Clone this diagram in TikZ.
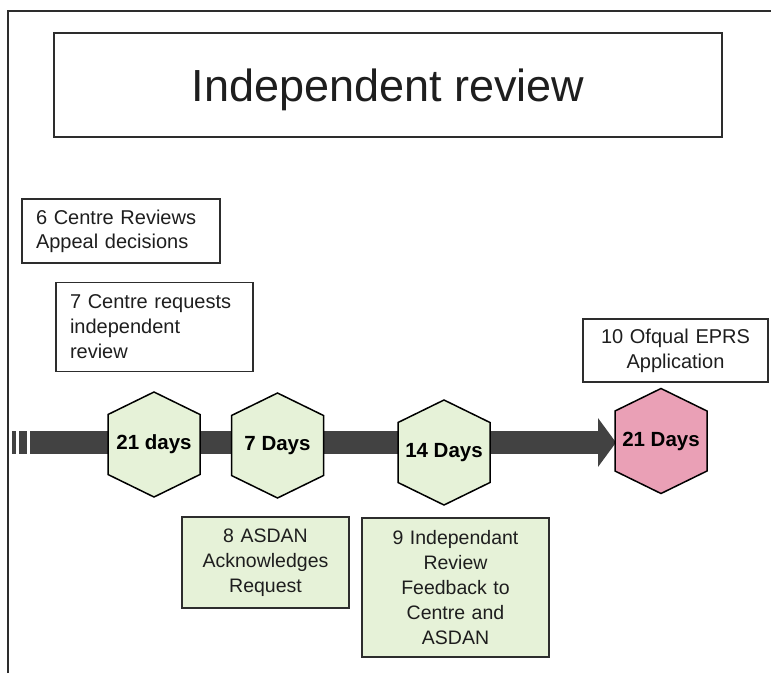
\documentclass[tikz,border=0pt]{standalone}
\usepackage{fontspec}
\setmainfont{Liberation Sans}
\usetikzlibrary{arrows.meta}
\definecolor{hexgreen}{RGB}{230,242,216}
\definecolor{hexpink}{RGB}{234,160,182}
\definecolor{bargray}{RGB}{66,66,66}
\definecolor{edgegray}{RGB}{45,45,45}
\definecolor{txt}{RGB}{30,30,30}
\tikzset{
  frameline/.style={draw=edgegray, line width=1.4pt},
  box/.style={draw=edgegray, line width=1.3pt, rectangle, inner ysep=0pt, text=txt,
    font=\fontsize{20}{25}\selectfont},
  leftbox/.style={box, align=left, inner xsep=14pt},
  centerbox/.style={box, align=center, inner xsep=4pt},
  greenbox/.style={centerbox, fill=hexgreen, font=\fontsize{19.5}{25}\selectfont},
  hexshape/.style={draw=black, line width=1.5pt, line join=miter},
  hexlabel/.style={rectangle, draw=none, inner sep=0pt, minimum width=92pt, minimum height=105pt,
    font=\bfseries\fontsize{20.5}{24}\selectfont, text=black},
  timeline/.style={draw=bargray, line width=23pt, -{Triangle[length=18pt,width=48pt]}}
}
\newcommand{\hexnode}[5]{%
  \fill[#4] (#2,#3-52.5) -- (#2+46,#3-30) -- (#2+46,#3+30) -- (#2,#3+52.5) -- (#2-46,#3+30) -- (#2-46,#3-30) -- cycle;
  \draw[hexshape] (#2,#3-52.5) -- (#2+46,#3-30) -- (#2+46,#3+30) -- (#2,#3+52.5) -- (#2-46,#3+30) -- (#2-46,#3-30) -- cycle;
  \node[hexlabel] (#1) at (#2,#3) {#5};%
}
\begin{document}
\begin{tikzpicture}[x=1pt,y=-1pt]
\useasboundingbox (0,0) rectangle (771,673);
% frame
\draw[frameline] (8,673) -- (8,11) -- (771,11);
% title
\node[box, minimum width=668pt, minimum height=104pt, text depth=0pt, font=\fontsize{45}{50}\selectfont] (title) at (388,85) {Independent review};
% upper boxes
\node[leftbox, text width=170pt, minimum height=64pt, font=\fontsize{20}{24}\selectfont] (b6) at (121,231) {6 Centre Reviews\\Appeal decisions};
\node[leftbox, text width=169pt, minimum height=89pt] (b7) at (154.5,327) {7 Centre requests\\independent\\review};
\node[centerbox, text width=177pt, minimum height=63pt] (b10) at (675.5,350.5) {10 Ofqual EPRS\\Application};
% timeline stripes
\fill[bargray] (12,431) rectangle (16,454);
\fill[bargray] (19,431) rectangle (27,454);
\coordinate (start) at (30,442.5);
\coordinate (hend) at (616,442.5);
\draw[timeline] (start) -- (hend);
% hexagons
\hexnode{h1}{154}{444.5}{hexgreen}{21 days}
\hexnode{h2}{277.5}{445.5}{hexgreen}{7 Days}
\hexnode{h3}{444}{452.5}{hexgreen}{14 Days}
\hexnode{h4}{661}{441}{hexpink}{21 Days}
% lower boxes
\node[greenbox, text width=159pt, minimum height=91pt] (b8) at (265.5,562.5) {8 ASDAN\\Acknowledges\\Request};
\node[greenbox, text width=179pt, minimum height=139pt] (b9) at (455.5,587.5) {9 Independant\\Review\\Feedback to\\Centre and\\ASDAN};
\end{tikzpicture}
\end{document}
